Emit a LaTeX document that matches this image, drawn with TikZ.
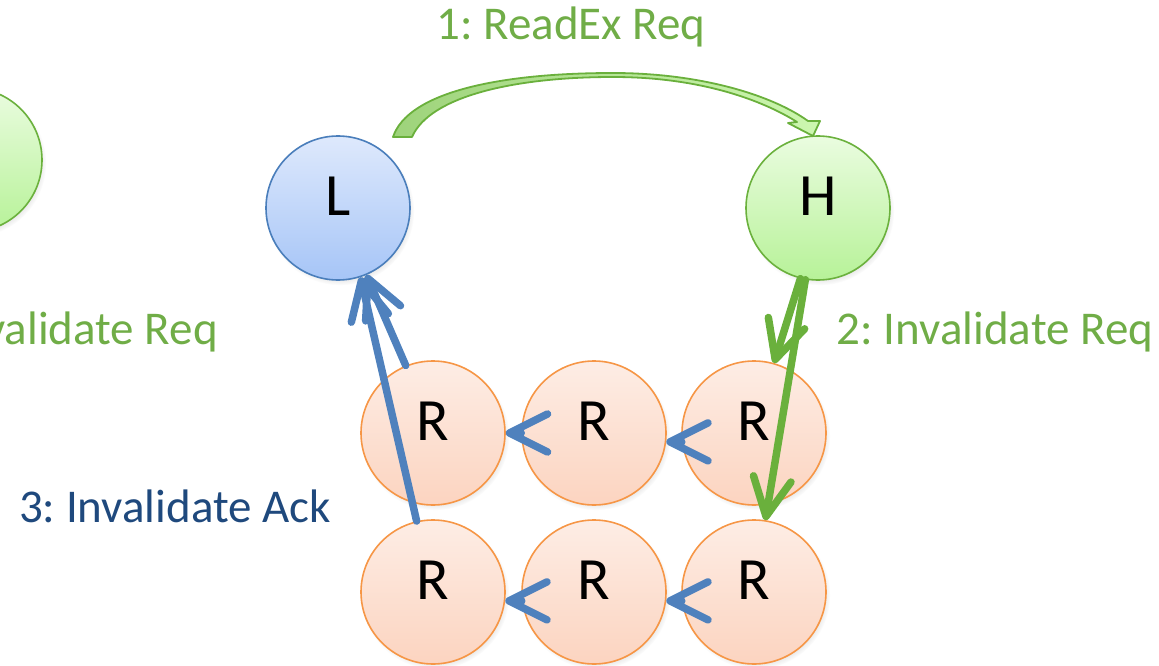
\documentclass[tikz,border=0pt]{standalone}
\usepackage{fontspec}
\setmainfont{Carlito}
\usetikzlibrary{arrows.meta,shadows}
\frenchspacing

\definecolor{lborder}{RGB}{74,126,187}
\definecolor{ltop}{RGB}{222,233,252}
\definecolor{lbot}{RGB}{166,197,247}
\definecolor{hborder}{RGB}{107,177,61}
\definecolor{htop}{RGB}{234,252,224}
\definecolor{hbot}{RGB}{183,242,152}
\definecolor{rborder}{RGB}{246,150,70}
\definecolor{rtop}{RGB}{253,237,229}
\definecolor{rbot}{RGB}{252,212,192}
\definecolor{ackblue}{RGB}{79,129,189}
\definecolor{reqgreen}{RGB}{106,176,60}
\definecolor{labgreen}{RGB}{112,173,71}
\definecolor{labblue}{RGB}{31,73,125}
\definecolor{bandleft}{RGB}{158,211,123}
\definecolor{bandright}{RGB}{205,247,176}

\tikzset{
  agent/.style={circle, minimum size=144pt, inner sep=0pt, line width=1.6pt,
    text depth=24pt, font=\fontsize{60}{60}\selectfont,
    circular drop shadow={shadow xshift=2pt, shadow yshift=-3pt,
      shadow scale=1.03, opacity=0.3}},
  local/.style={agent, draw=lborder, top color=ltop, bottom color=lbot},
  home/.style={agent, draw=hborder, top color=htop, bottom color=hbot},
  remote/.style={agent, draw=rborder, top color=rtop, bottom color=rbot},
  lab/.style={inner sep=0pt, anchor=base, font=\fontsize{47}{50}\selectfont},
  msg/.style={line width=7.5pt, line cap=round,
    -{Straight Barb[length=38pt,width=38pt,round]}},
  ack/.style={msg, draw=ackblue},
  req/.style={msg, draw=reqgreen},
}

\begin{document}
\begin{tikzpicture}[x=1pt,y=-1pt]
\useasboundingbox (0,0) rectangle (1159,666);
\clip (0,0) rectangle (1159,666);

% caches
\node[home]   (H0)  at (-30,160) {};
\node[local]  (L)   at (338,208) {L};
\node[home]   (H)   at (818,208) {H};
\node[remote] (r11) at (433,433) {R};
\node[remote] (r12) at (594,433) {R};
\node[remote] (r13) at (754,433) {R};
\node[remote] (r21) at (433,592) {R};
\node[remote] (r22) at (594,592) {R};
\node[remote] (r23) at (754,592) {R};

% curved block arrow for the request
\draw[line width=1.8pt, draw=reqgreen, line join=round, left color=bandleft, right color=bandright]
  (393,137) .. controls (408,92) and (500,73) .. (613,73)
  .. controls (700,73) and (772,95) .. (808,121)
  -- (820,121) -- (813,136) -- (788,123) -- (797,122)
  .. controls (762,100) and (700,77) .. (613,77)
  .. controls (515,77) and (430,96) .. (412,137) -- cycle;

% invalidations
\draw[req] (H.256) to[shorten >=-3pt] (r13.74);
\draw[req] (H.260) to[shorten >=-1pt] (r23.81);

% forwarding along the rows
\draw[ack] (r12.180) -- (r11.0);
\draw[ack] (r13.187) -- (r12.353);
\draw[ack] (r22.187) -- (r21.353);
\draw[ack] (r23.187) -- (r22.353);

% acknowledgements
\draw[ack] (r11.112) to[shorten >=-6pt] (L.293);
\draw[ack] (r21.103) to[shorten >=-8pt] (L.288);

% labels
\node[lab, text=labgreen] (t1) at (571,40) {1: ReadEx Req};
\node[lab, text=labgreen] (t2) at (995,344) {2: Invalidate Req};
\node[lab, text=labgreen, anchor=base east] (t2b) at (218,344) {2: Invalidate Req};
\node[lab, text=labblue] (t3) at (175,522) {3: Invalidate Ack};
\end{tikzpicture}
\end{document}
